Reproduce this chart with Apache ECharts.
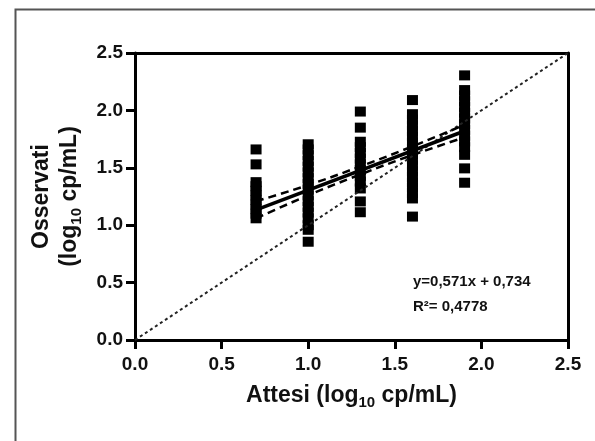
<!DOCTYPE html>
<html>
<head>
<meta charset="utf-8">
<script src="https://cdn.jsdelivr.net/npm/echarts@6/dist/echarts.min.js"></script>
<style>html,body{margin:0;padding:0;background:#fff;}#c{width:595px;height:441px;}</style>
</head>
<body>
<div id="c"></div>
<script>
// Expected values (log10 cp/mL) for each dilution level
const expected = [0.699, 1.0, 1.301, 1.602, 1.903];
// Observed values per level
const obs05 = [1.66, 1.53, 1.375, 1.34, 1.30, 1.26, 1.22, 1.18, 1.14, 1.10, 1.06];
const obs10 = [1.705, 1.66, 1.61, 1.56, 1.51, 1.46, 1.41, 1.36, 1.31, 1.26, 1.21, 1.16, 1.11, 1.06, 1.00, 0.96, 0.856];
const obs20 = [1.99, 1.85, 1.727, 1.68, 1.63, 1.58, 1.53, 1.48, 1.43, 1.38, 1.32, 1.207, 1.113];
const obs40 = [2.09, 1.967, 1.92, 1.87, 1.82, 1.77, 1.72, 1.67, 1.62, 1.57, 1.52, 1.47, 1.42, 1.37, 1.33, 1.28, 1.233, 1.075];
const obs80 = [2.305, 2.177, 2.13, 2.08, 2.03, 1.98, 1.93, 1.88, 1.83, 1.78, 1.73, 1.68, 1.613, 1.495, 1.37];
const observedGroups = [obs05, obs10, obs20, obs40, obs80];
// Regression
const slope = 0.571;
const intercept = 0.734;
const fitRange = [0.699, 1.903];
// 95% confidence band
const bandX = [0.699, 1.0, 1.301, 1.602, 1.903];
const bandUpper = [1.209, 1.350, 1.512, 1.687, 1.875];
const bandLower = [1.059, 1.260, 1.442, 1.611, 1.765];
// Identity line
const identity = [0, 2.5];
// Axis ticks
const axisMin = 0, axisMax = 2.5, axisStep = 0.5;
const eqText = 'y=0,571x + 0,734';
const r2Text = 'R²= 0,4778';

const FONT = '"Liberation Sans", Arial, sans-serif';
const points = [];
expected.forEach((x, i) => observedGroups[i].forEach(y => points.push([x, y])));
const fitLine = fitRange.map(x => [x, slope * x + intercept]);
const upper = bandX.map((x, i) => [x, bandUpper[i]]);
const lower = bandX.map((x, i) => [x, bandLower[i]]);
const idLine = identity.map(v => [v, v]);

const axisCommon = {
  type: 'value', min: axisMin, max: axisMax, interval: axisStep,
  splitLine: { show: false },
  axisLine: { show: true, onZero: false, lineStyle: { color: '#000', width: 3 } },
  axisTick: { show: true, length: 9, lineStyle: { color: '#000', width: 3 } },
  axisLabel: { color: '#111', fontFamily: FONT, fontWeight: 'bold', fontSize: 19, formatter: v => v.toFixed(1) }
};
const richName = {
  b: { fontFamily: FONT, fontWeight: 'bold', fontSize: 23, color: '#111', lineHeight: 28 },
  s: { fontFamily: FONT, fontWeight: 'bold', fontSize: 15, color: '#111', lineHeight: 16, verticalAlign: 'bottom' }
};
const chart = echarts.init(document.getElementById('c'), null, { renderer: 'canvas' });
chart.setOption({
  animation: false,
  backgroundColor: '#fff',
  grid: { left: 135, top: 53, right: 27, bottom: 101 },
  xAxis: [
    Object.assign({}, axisCommon, {
      position: 'bottom',
      axisLabel: Object.assign({}, axisCommon.axisLabel, { margin: 15 }),
      name: '{b|Attesi (log}{s|10}{b| cp/mL)}',
      nameLocation: 'middle', nameGap: 42,
      nameTextStyle: { rich: richName }
    }),
    { type: 'value', min: axisMin, max: axisMax, position: 'top', axisLine: { show: true, onZero: false, lineStyle: { color: '#000', width: 3 } }, axisTick: { show: false }, axisLabel: { show: false }, splitLine: { show: false } }
  ],
  yAxis: [
    Object.assign({}, axisCommon, {
      position: 'left',
      axisLabel: Object.assign({}, axisCommon.axisLabel, { margin: 12 }),
      name: '{b|Osservati}\n{b|(log}{s|10}{b| cp/mL)}',
      nameLocation: 'middle', nameGap: 51, nameRotate: 90,
      nameTextStyle: { rich: richName, align: 'center' }
    }),
    { type: 'value', min: axisMin, max: axisMax, position: 'right', axisLine: { show: true, onZero: false, lineStyle: { color: '#000', width: 3 } }, axisTick: { show: false }, axisLabel: { show: false }, splitLine: { show: false } }
  ],
  graphic: [
    { type: 'rect', left: 13, top: 7, shape: { width: 620, height: 470 }, style: { fill: 'none', stroke: '#555', lineWidth: 2 }, silent: true, z: -10 },
    { type: 'text', left: 413, top: 274, style: { text: eqText, fontFamily: FONT, fontWeight: 'bold', fontSize: 15, fill: '#111' } },
    { type: 'text', left: 413, top: 299, style: { text: r2Text, fontFamily: FONT, fontWeight: 'bold', fontSize: 15, fill: '#111' } }
  ],
  series: [
    { type: 'scatter', data: points, symbol: 'rect', symbolSize: [11, 10], itemStyle: { color: '#000', opacity: 1 }, z: 2 },
    { type: 'line', data: idLine, showSymbol: false, lineStyle: { color: '#222', width: 2, type: [3, 3] }, z: 3 },
    { type: 'line', data: fitLine, showSymbol: false, lineStyle: { color: '#000', width: 3.5 }, z: 4 },
    { type: 'line', data: upper, smooth: true, showSymbol: false, lineStyle: { color: '#000', width: 2.5, type: [8, 5] }, z: 4 },
    { type: 'line', data: lower, smooth: true, showSymbol: false, lineStyle: { color: '#000', width: 2.5, type: [8, 5] }, z: 4 }
  ]
});
</script>
</body>
</html>
